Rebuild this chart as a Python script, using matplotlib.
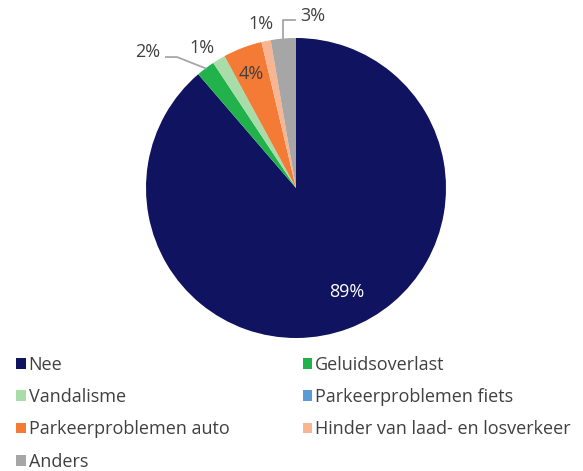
import matplotlib
matplotlib.use("Agg")
import matplotlib.pyplot as plt
from matplotlib.patches import Patch
import numpy as np

categories = ["Nee", "Geluidsoverlast", "Vandalisme", "Parkeerproblemen fiets",
              "Parkeerproblemen auto", "Hinder van laad- en losverkeer", "Anders"]
values = [88.7, 2.0, 1.4, 0.0, 4.2, 1.0, 2.7]
colors = ["#0F1360", "#22B24C", "#A8DCA8", "#5B9BD5", "#F47B35", "#F8B592", "#A6A6A6"]

plt.rcParams['font.family'] = ['Open Sans', 'DejaVu Sans']
TXT = "#404040"
LINE = "#A6A6A6"

W, H = 583, 471
fig = plt.figure(figsize=(W / 100, H / 100), dpi=100)
cx, cy, R = 296, 471 - 188, 150
ax = fig.add_axes([(cx - R) / W, (cy - R) / H, 2 * R / W, 2 * R / H])
wedges, _ = ax.pie(values, colors=colors, startangle=90, counterclock=False,
                   wedgeprops=dict(linewidth=0))
ax.set_xlim(-1, 1)
ax.set_ylim(-1, 1)
ax.set_aspect('equal')
ax.axis('off')

def mid(w):
    a = np.deg2rad((w.theta1 + w.theta2) / 2)
    return np.cos(a), np.sin(a)

fs = 13
# label placement (x, baseline y, colour) per slice index
label_pos = {0: (0.337, -0.727, "white"),
             1: (-0.99, 0.873, TXT),
             2: (-0.63, 0.90, TXT),
             4: (-0.30, 0.727, TXT),
             5: (-0.233, 1.06, TXT),
             6: (0.11, 1.113, TXT)}
for i, (x, y, col) in label_pos.items():
    ax.text(x, y, f"{round(values[i])}%", ha='center', va='baseline',
            color=col, fontsize=fs)

# leader lines
x, y = mid(wedges[1])
ax.plot([x, -0.793, -0.867], [y, 0.873, 0.873], color=LINE, lw=1.3, clip_on=False)
x, y = mid(wedges[6])
ax.plot([x, x, -0.007], [y, 1.12, 1.12], color=LINE, lw=1.3, clip_on=False)

# legend (row-major order in picture -> column-major for matplotlib)
order = [0, 2, 4, 6, 1, 3, 5]
handles = [Patch(facecolor=colors[i], edgecolor='none') for i in order]
labels = [categories[i] for i in order]
leg = fig.legend(handles, labels, ncol=2, loc='upper left',
                 bbox_to_anchor=(16 / W, 1 - 356 / H), frameon=False,
                 fontsize=fs, labelcolor=TXT, handlelength=0.55, handleheight=0.55,
                 handletextpad=0.15, columnspacing=4.05, labelspacing=0.785,
                 borderaxespad=0, borderpad=0)

fig.savefig("out.png", dpi=100)
